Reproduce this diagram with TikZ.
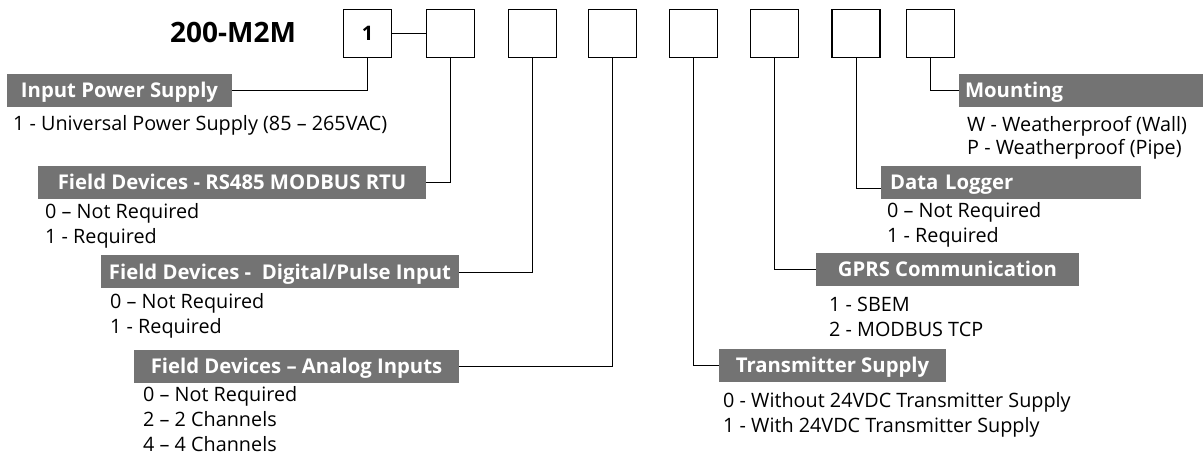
\documentclass[tikz,border=0pt]{standalone}
\usepackage{fontspec}
\setmainfont{Open Sans}
\usetikzlibrary{calc}
\definecolor{lblgray}{RGB}{115,115,115}
\begin{document}
\begin{tikzpicture}[x=1pt,y=-1pt,
  cell/.style={draw=black,line width=1.1pt,minimum width=48pt,minimum height=48pt,inner sep=0pt,
    font=\fontsize{20}{24}\selectfont\bfseries,text height=14.3pt,text depth=0pt},
  lbl/.style={fill=lblgray,text=white,minimum height=33pt,inner sep=0pt,
    font=\fontsize{20.3}{24}\selectfont\bfseries,text height=14.5pt,text depth=0pt},
  lbll/.style={lbl,align=left},
  item/.style={anchor=base west,inner sep=0pt,font=\fontsize{19.8}{24}\selectfont},
  wire/.style={draw=black,line width=0.8pt}]
\useasboundingbox (0,0) rectangle (1203,454);

% title
\node[anchor=base west,inner sep=0pt,font=\fontsize{28}{32}\selectfont\bfseries] (title) at (170,43) {200-M2M};

% code cells
\node[cell] (b1) at (367.5,33.5) {1};
\node[cell] (b2) at (450.5,33.5) {};
\node[cell] (b3) at (532.5,33.5) {};
\node[cell] (b4) at (612.5,33.5) {};
\node[cell] (b5) at (693.5,33.5) {};
\node[cell] (b6) at (774.5,33.5) {};
\node[cell] (b7) at (856,33.5) {};
\node[cell] (b8) at (930.5,33.5) {};

% labels
\node[lbl,minimum width=225pt] (ips) at (119.5,90.5) {Input Power Supply};
\node[lbl,minimum width=388pt] (rs) at (232,182.5) {Field Devices - RS485 MODBUS RTU};
\node[lbl,minimum width=358pt] (dig) at (280,272) {Field Devices -\ \ Digital/Pulse Input};
\node[lbl,minimum width=325pt] (ana) at (296.5,366.5) {Field Devices – Analog Inputs};
\node[lbl,minimum width=227pt] (trs) at (832.5,365.5) {Transmitter Supply};
\node[lbl,minimum width=263pt] (gprs) at (947.5,269.5) {GPRS Communication};
\node[lbll,minimum width=260pt,text width=242pt,inner xsep=9pt] (dl) at (1011,182.5) {Data Logger};
\node[lbll,minimum width=244pt,text width=232pt,inner xsep=6pt] (mnt) at (1081,90.5) {Mounting};

% option texts
\node[item] (ips1) at (13,131) {1 - Universal Power Supply (85 – 265VAC)};
\node[item] (rs1) at (45,219) {0 – Not Required};
\node[item] (rs2) at (45,244) {1 - Required};
\node[item] (dig1) at (110,309) {0 – Not Required};
\node[item] (dig2) at (110,334) {1 - Required};
\node[item] (ana1) at (143,402) {0 – Not Required};
\node[item] (ana2) at (143,427) {2 – 2 Channels};
\node[item] (ana3) at (143,451) {4 – 4 Channels};
\node[item] (trs1) at (723,408) {0 - Without 24VDC Transmitter Supply};
\node[item] (trs2) at (723,432) {1 - With 24VDC Transmitter Supply};
\node[item] (gprs1) at (829,312) {1 - SBEM};
\node[item] (gprs2) at (829,337) {2 - MODBUS TCP};
\node[item] (dl1) at (887,218) {0 – Not Required};
\node[item] (dl2) at (887,243) {1 - Required};
\node[item] (mnt1) at (967,132) {W - Weatherproof (Wall)};
\node[item] (mnt2) at (967,155) {P - Weatherproof (Pipe)};

% connectors
\draw[wire] (b1.east) -- (b2.west);
\draw[wire] (b1.south) |- (ips.east);
\draw[wire] (b2.south) |- (rs.east);
\draw[wire] (b3.south) |- (dig.east);
\draw[wire] (b4.south) |- (ana.east);
\draw[wire] (b5.south) |- (trs.west);
\draw[wire] (b6.south) |- (gprs.west);
\draw[wire] (b7.south) |- ($(dl.west)+(0,5.5)$);
\draw[wire] (b8.south) |- (mnt.west);
\end{tikzpicture}
\end{document}
